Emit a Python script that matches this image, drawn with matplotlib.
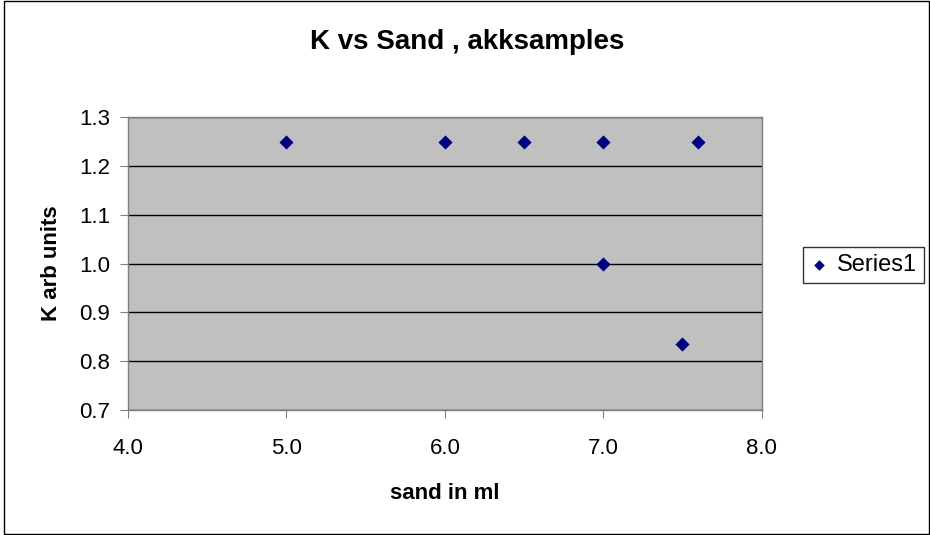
import matplotlib.pyplot as plt
from matplotlib.patches import Rectangle

# Data ------------------------------
sand_ml = [5.0, 6.0, 6.5, 7.0, 7.6, 7.0, 7.5]
k_arb = [1.25, 1.25, 1.25, 1.25, 1.25, 1.0, 0.835]
x_ticks = [4.0, 5.0, 6.0, 7.0, 8.0]
y_ticks = [0.7, 0.8, 0.9, 1.0, 1.1, 1.2, 1.3]

plt.rcParams['font.family'] = ['Liberation Sans', 'DejaVu Sans']

fig = plt.figure(figsize=(9.3, 5.35), dpi=100)
ax = fig.add_axes([0.1376, 0.2336, 0.6814, 0.5474])
ax.set_facecolor('#C0C0C0')

ax.scatter(sand_ml, k_arb, marker='D', s=52, color='#000080', zorder=3,
           label='Series1', linewidths=0)

ax.set_xlim(4.0, 8.0)
ax.set_ylim(0.7, 1.3)
ax.set_xticks(x_ticks)
ax.set_yticks(y_ticks)
ax.set_xticklabels([f'{v:.1f}' for v in x_ticks])
ax.set_yticklabels([f'{v:.1f}' for v in y_ticks])
ax.yaxis.grid(True, color='black', linewidth=1)
ax.set_axisbelow(True)

for s in ax.spines.values():
    s.set_color('#808080')
    s.set_linewidth(1)
ax.tick_params(axis='both', direction='out', length=5.8, color='#808080',
               labelsize=16)
ax.tick_params(axis='x', pad=14)
ax.tick_params(axis='y', pad=7)

# axis titles, placed where the reference has them
ax.set_xlabel('sand in ml', fontsize=16, fontweight='bold', va='center')
ax.xaxis.set_label_coords(0.5, -84 / 293)
ax.set_ylabel('K arb units', fontsize=16, fontweight='bold', va='center')
ax.yaxis.set_label_coords(-77 / 634, 0.5)

fig.text(0.502, 1 - 42 / 535, 'K vs Sand , akksamples', ha='center', va='center',
         fontsize=20, fontweight='bold')

leg = fig.legend(loc='center left', bbox_to_anchor=(0.863, 0.505),
                 frameon=True, fancybox=False, fontsize=17, handlelength=0.8,
                 handletextpad=0.35, borderpad=0.3, borderaxespad=0,
                 markerscale=0.75)
leg.get_frame().set_edgecolor('black')
leg.get_frame().set_linewidth(1)

# outer chart border
fig.patches.append(Rectangle((0.004, 0.002), 0.995, 0.996, transform=fig.transFigure,
                             fill=False, edgecolor='black', linewidth=1))

fig.savefig('out.png', dpi=100)
